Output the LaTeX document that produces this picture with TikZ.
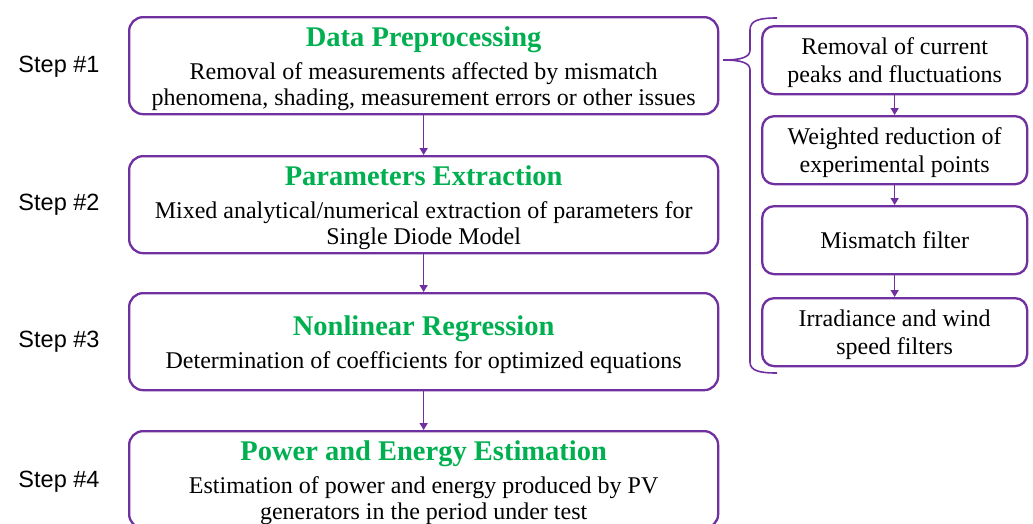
\documentclass[tikz,border=0pt]{standalone}
\usepackage{fontspec}
\setmainfont{Liberation Serif}
\newfontfamily\stepfont{Liberation Sans}
\usetikzlibrary{arrows.meta}
\definecolor{pur}{HTML}{7030A0}
\definecolor{grn}{HTML}{00B050}
\newcommand{\ttl}[1]{{\fontsize{28.5}{30}\selectfont\bfseries\color{grn}\rule{0pt}{26pt}#1}}
\newcommand{\sdt}{\rule{0pt}{21pt}}
\begin{document}
\begin{tikzpicture}[x=1pt,y=-1pt,
  mainbox/.style={draw=pur, line width=2.3pt, rounded corners=14pt,
    minimum width=589pt, minimum height=97pt, inner sep=0pt, align=center,
    anchor=north west, font=\fontsize{24}{26}\selectfont},
  sidebox/.style={draw=pur, line width=2.3pt, rounded corners=12pt,
    minimum width=265pt, minimum height=68pt, inner sep=0pt, align=center,
    anchor=north west, font=\fontsize{24}{28}\selectfont},
  steplabel/.style={font=\stepfont\fontsize{23.5}{25}\selectfont, inner sep=0pt},
  arr/.style={draw=pur, line width=1.5pt, -{Triangle[length=7pt,width=8pt]}},
  bracestyle/.style={draw=pur, line width=1.6pt}]
\clip (0,0) rectangle (1033,523);
\fill[white] (0,0) rectangle (1033,523);

% main boxes
\node[mainbox] (b1) at (128,16) {\ttl{Data Preprocessing}\\[7pt]
  Removal of measurements affected by mismatch\\
  phenomena, shading, measurement errors or other issues};
\node[mainbox] (b2) at (128,155) {\ttl{Parameters Extraction}\\[7pt]
  Mixed analytical/numerical extraction of parameters for\\
  Single Diode Model};
\node[mainbox] (b3) at (128,292) {\ttl{Nonlinear Regression}\\[7pt]
  Determination of coefficients for optimized equations};
\node[mainbox] (b4) at (128,430) {\ttl{Power and Energy Estimation}\\[7pt]
  Estimation of power and energy produced by PV\\
  generators in the period under test};

% step labels
\node[steplabel] (s1) at (59,67) {Step \#1};
\node[steplabel] (s2) at (59,205) {Step \#2};
\node[steplabel] (s3) at (59,342) {Step \#3};
\node[steplabel] (s4) at (59,482) {Step \#4};

% side boxes
\node[sidebox] (r1) at (761,25) {\sdt Removal of current\\peaks and fluctuations};
\node[sidebox] (r2) at (761,115) {\sdt Weighted reduction of\\experimental points};
\node[sidebox] (r3) at (761,205) {Mismatch filter};
\node[sidebox] (r4) at (761,297) {\sdt Irradiance and wind\\speed filters};

% arrows
\draw[arr] (b1.south) -- (b2.north);
\draw[arr] (b2.south) -- (b3.north);
\draw[arr] (b3.south) -- (b4.north);
\draw[arr] (r1.south) -- (r2.north);
\draw[arr] (r2.south) -- (r3.north);
\draw[arr] (r3.south) -- (r4.north);

% brace
\coordinate (btop) at (777,18);
\coordinate (btip) at (723,60);
\coordinate (bbot) at (777,373);
\draw[bracestyle] (btop) .. controls (760,18) and (750,20) .. (750,30)
  -- (750,50) .. controls (750,57) and (742,60) .. (btip)
  .. controls (742,60) and (750,63) .. (750,70)
  -- (750,362) .. controls (750,371) and (760,373) .. (bbot);
\end{tikzpicture}
\end{document}
